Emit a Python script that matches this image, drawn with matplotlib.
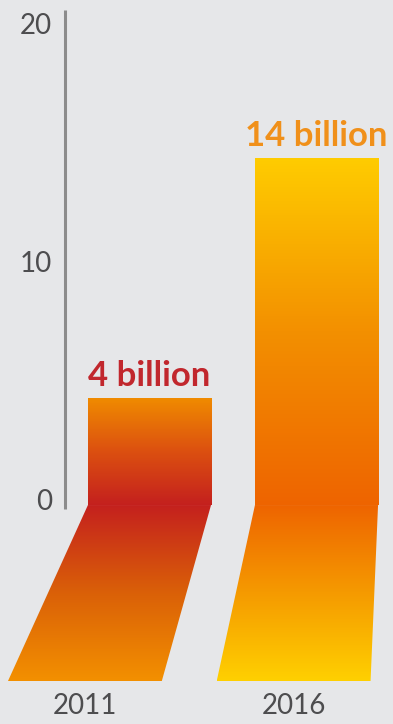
import numpy as np
import matplotlib.pyplot as plt
from matplotlib.colors import LinearSegmentedColormap
from matplotlib.patches import Polygon

years = ['2011', '2016']
values = [4.5, 14.6]
value_labels = ['4 billion', '14 billion']
label_colors = ['#c1272d', '#f0901a']
yticks = [0, 10, 20]

# colour stops: (upper bar top -> zero), (zero -> floor bottom)
upper_colors = [['#c4201e', '#dc5010', '#f08c00'],
                ['#ee6400', '#f39000', '#ffcc00']]
lower_colors = [['#c4201e', '#da6008', '#f39000'],
                ['#ee6400', '#f59a00', '#ffd000']]

bg = '#e6e7e9'
fig = plt.figure(figsize=(3.93, 7.24), dpi=100)
fig.patch.set_facecolor(bg)
ax = fig.add_axes([0, 0, 1, 1])
ax.set_facecolor(bg)

xpos = np.arange(len(years))
width = 0.737
depth = 7.4          # floor depth below zero
vx, vs = 1.548, 1.25  # perspective of the floor

bars = ax.bar(xpos, values, width=width, color='none', edgecolor='none')
grad = np.linspace(0, 1, 256).reshape(-1, 1)

for i, b in enumerate(bars):
    x0, x1 = b.get_x(), b.get_x() + b.get_width()
    h = b.get_height()
    cm_up = LinearSegmentedColormap.from_list('u%d' % i, upper_colors[i])
    im = ax.imshow(grad, extent=(x0, x1, 0, h), origin='lower', aspect='auto',
                   cmap=cm_up, zorder=2)
    im.set_clip_path(b)

    bx0 = vx + (x0 - vx) * vs
    bx1 = vx + (x1 - vx) * vs
    poly = Polygon([(x0, 0), (x1, 0), (bx1, -depth), (bx0, -depth)],
                   closed=True, facecolor='none', edgecolor='none')
    ax.add_patch(poly)
    cm_lo = LinearSegmentedColormap.from_list('l%d' % i, lower_colors[i])
    im2 = ax.imshow(grad, extent=(min(bx0, x0), max(bx1, x1), -depth, 0),
                    origin='upper', aspect='auto', cmap=cm_lo, zorder=2)
    im2.set_clip_path(poly)

    ax.text(b.get_x() + b.get_width() / 2, h + 0.5, value_labels[i],
            ha='center', va='baseline', fontsize=25, fontweight='bold',
            color=label_colors[i], family='Lato')
    ax.text((bx0 + bx1) / 2, -8.45, years[i], ha='center', va='center',
            fontsize=20, color='#4d4d4f', family='Lato')

# axis line and ticks
axis_x = -0.506
ax.plot([axis_x, axis_x], [20.8, -0.15], color='#8c8c8c', lw=2.2,
        solid_capstyle='butt', zorder=1)
for t in yticks:
    ax.text(-0.584, t + 0.12, str(t), ha='right', va='center', fontsize=20,
            color='#4d4d4f', family='Lato')

ax.set_xlim(-0.895, 1.458)
ax.set_ylim(-9.2, 21.22)
ax.axis('off')

fig.savefig('out.png', dpi=100, facecolor=bg)
